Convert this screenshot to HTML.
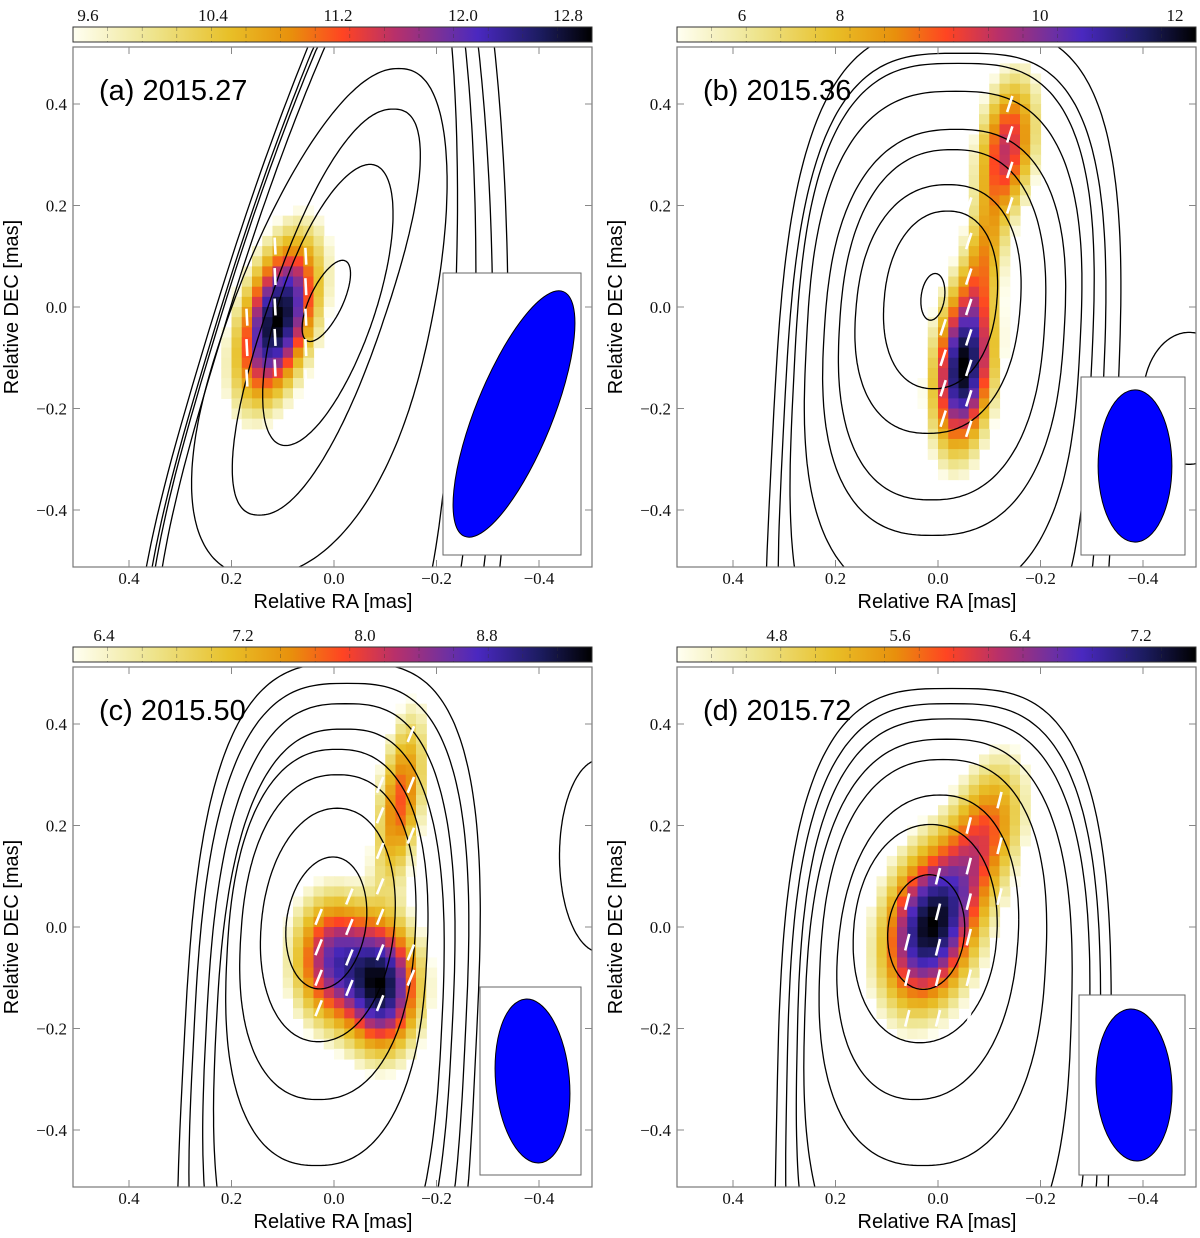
<!DOCTYPE html>
<html><head><meta charset="utf-8"><style>
html,body{margin:0;padding:0;background:#fff;overflow:hidden;width:1200px;height:1238px;}
svg{display:block;}
svg text{font-family:"Liberation Sans",sans-serif;}
.tk{font-family:"Liberation Serif",serif;font-size:17px;fill:#111;}
</style></head><body>
<svg id="fig" xmlns="http://www.w3.org/2000/svg" width="1200" height="1238" viewBox="0 0 1200 1238">
<defs>
<linearGradient id="cmap" x1="0" x2="1" y1="0" y2="0">
<stop offset="0" stop-color="#fffff2"/><stop offset="0.15" stop-color="#eee590"/><stop offset="0.3" stop-color="#e8c028"/>
<stop offset="0.42" stop-color="#e8900c"/><stop offset="0.52" stop-color="#ff4422"/><stop offset="0.62" stop-color="#b8306a"/>
<stop offset="0.72" stop-color="#7030a0"/><stop offset="0.78" stop-color="#4a28c0"/><stop offset="0.9" stop-color="#1c1c60"/><stop offset="1" stop-color="#000000"/>
</linearGradient>
</defs>
</svg>
<script>
// ---------- data ----------
const panelLabels = ["(a) 2015.27","(b) 2015.36","(c) 2015.50","(d) 2015.72"];
const cbarLabels = [["9.6","10.4","11.2","12.0","12.8"],["6","8","10","12"],["6.4","7.2","8.0","8.8"],["4.8","5.6","6.4","7.2"]];
const cbarLabelX = [[88,213,338,463,568],[742,840,1040,1175],[104,243,365,487],[777,900,1020,1141]];
const axisTicks = [0.4,0.2,0.0,-0.2,-0.4];
// heatmap blobs: ra, dec, sigma ra, sigma dec, rot(deg), amplitude
const blobRA   = [[0.11],[-0.05,-0.09,-0.135],[-0.095,0.0,-0.13],[0.015,-0.09]];
const blobDEC  = [[-0.025],[-0.12,0.1,0.315],[-0.118,-0.065,0.25],[0.0,0.18]];
const blobSRA  = [[0.042],[0.035,0.025,0.035],[0.045,0.05,0.028],[0.055,0.045]];
const blobSDEC = [[0.1],[0.1,0.09,0.09],[0.08,0.08,0.11],[0.1,0.1]];
const blobROT  = [[15],[5,8,8],[0,0,8],[12,15]];
const blobAMP  = [[1.0],[1.0,0.3,0.55],[1.0,0.75,0.5],[1.0,0.45]];
// contours (superellipses): ra, dec, half-width, half-height, exponent, left-side shear, right-side shear
const cRA  = [[0.015,0.012,0.015,0.01,0.0,-0.015,-0.03,-0.04],
              [0.01,-0.005,0.0,-0.008,-0.012,-0.01,-0.008,-0.008,-0.01,-0.49],
              [0.015,0.012,0.012,0.014,0.01,0.01,0.01,0.01,-0.52],
              [0.023,0.025,0.02,0.01,0.0,-0.01,-0.01,-0.01]];
const cDEC = [[0.012,0.004,-0.01,-0.03,-0.1,-0.1,-0.1,-0.1],
              [0.02,0.014,-0.004,-0.035,-0.05,-0.075,-0.15,-0.25,-0.3,-0.18],
              [0.008,0.004,-0.02,-0.06,-0.2,-0.21,-0.24,-0.28,0.14],
              [-0.01,-0.013,-0.04,-0.07,-0.18,-0.24,-0.31,-0.38]];
const cW   = [[0.035,0.097,0.117,0.2,0.232,0.26,0.28,0.3],
              [0.023,0.11,0.16,0.2,0.234,0.267,0.29,0.31,0.335,0.09],
              [0.078,0.13,0.17,0.195,0.22,0.24,0.265,0.285,0.08],
              [0.075,0.14,0.175,0.22,0.26,0.285,0.305,0.325]];
const cH   = [[0.08,0.277,0.4,0.5,0.85,0.9,0.95,1.0],
              [0.046,0.175,0.245,0.345,0.4,0.5,0.63,0.75,0.85,0.13],
              [0.13,0.23,0.32,0.41,0.59,0.65,0.72,0.8,0.19],
              [0.113,0.215,0.3,0.4,0.55,0.65,0.75,0.85]];
const cN   = [[2,2,2.3,2.2,2.5,2.5,2.5,2.5],
              [2,2.2,2.3,2.4,2.5,2.7,3,3.2,3.3,2],
              [2,2.1,2.3,2.4,2.6,2.7,2.9,3.1,2],
              [2,2.1,2.2,2.4,2.6,2.8,3,3.2]];
const cSHL = [[0.4,0.3,0.33,0.35,0.3,0.3,0.3,0.3],
              [0.1,0.08,0.08,0.06,0.06,0.05,0.05,0.05,0.05,0],
              [0.1,0.08,0.06,0.05,0.05,0.05,0.05,0.05,0],
              [0.05,0.05,0.08,0.05,0.03,0.02,0.02,0.02]];
const cSHR = [[0.4,0.3,0.33,0.2,0.05,0.02,0.0,0.0],
              [0.1,0.08,0.08,0.06,0.06,0.05,0.05,0.05,0.05,0],
              [0.1,0.08,0.06,0.05,0.05,0.05,0.05,0.05,0],
              [0.05,0.05,0.08,0.05,0.03,0.02,0.02,0.02]];
// EVPA ticks: ra, dec, angle
const evRA  = [[0.055,0.055,0.055,0.055,0.055,0.115,0.115,0.115,0.115,0.115,0.17,0.17,0.17],
               [-0.01,-0.01,-0.01,-0.01,-0.06,-0.06,-0.06,-0.06,-0.06,-0.06,-0.06,-0.06,-0.14,-0.14,-0.14,-0.14],
               [0.03,0.03,0.03,0.03,-0.03,-0.03,-0.03,-0.03,-0.09,-0.09,-0.09,-0.09,-0.09,-0.09,-0.09,-0.15,-0.15,-0.15,-0.15,-0.15],
               [0.06,0.06,0.06,0.06,0.0,0.0,0.0,0.0,0.0,-0.06,-0.06,-0.06,-0.06,-0.06,-0.06,-0.12,-0.12,-0.12,-0.15]];
const evDEC = [[0.1,0.04,-0.02,-0.08,-0.14,0.12,0.06,0.0,-0.06,-0.12,-0.02,-0.08,-0.14],
               [-0.04,-0.1,-0.16,-0.22,0.2,0.13,0.06,0.0,-0.06,-0.12,-0.18,-0.24,0.2,0.27,0.34,0.4],
               [0.02,-0.04,-0.1,-0.16,0.06,0.0,-0.06,-0.12,0.28,0.22,0.15,0.08,0.02,-0.05,-0.15,0.38,0.28,0.18,-0.05,-0.1],
               [0.05,-0.03,-0.1,-0.18,0.1,0.03,-0.04,-0.1,-0.18,0.2,0.12,0.05,-0.02,-0.1,-0.18,0.25,0.16,0.06,0.0]];
const evANG = [-3,18,22,14];
// beam insets (pixel box + beam size in mas)
const beamBox = [[443,273,138,282],[1081,377,104,178],[480,987,101,188],[1079,995,106,180]];
const beamB = [0.075,0.072,0.072,0.074];
const beamA = [0.26,0.15,0.162,0.15];
const beamROT = [22,0,-5,-3];

// ---------- drawing ----------
const NS="http://www.w3.org/2000/svg";
const svg=document.getElementById('fig');
function mk(tag,attrs,parent){const e=document.createElementNS(NS,tag);for(const k in attrs)e.setAttribute(k,attrs[k]);(parent||svg).appendChild(e);return e;}
const stops=[[0,[255,255,242]],[0.15,[238,229,144]],[0.3,[232,192,40]],[0.42,[232,144,12]],[0.52,[255,68,34]],[0.62,[184,48,106]],[0.72,[112,48,160]],[0.78,[74,40,192]],[0.9,[28,28,96]],[1,[0,0,0]]];
function cmap(t){t=Math.max(0,Math.min(1,t));for(let i=1;i<stops.length;i++){if(t<=stops[i][0]){const a=stops[i-1],b=stops[i];const f=(t-a[0])/(b[0]-a[0]);const c=a[1].map((v,j)=>Math.round(v+(b[1][j]-v)*f));return `rgb(${c[0]},${c[1]},${c[2]})`;}}return '#000';}
const SX=512.5, SY=507.5, W=519, H=520;
const origins=[[73,47],[677,47],[73,667],[677,667]];
const names=['a','b','c','d'];
function superPath(cx,cy,hw,hh,n,shL,shR,ox,oy){
  let d='';
  for(let i=0;i<=240;i++){
    const th=i/240*2*Math.PI, c=Math.cos(th), s=Math.sin(th);
    const xn=Math.sign(c)*Math.pow(Math.abs(c),2/n);
    let x=hw*xn, y=hh*Math.sign(s)*Math.pow(Math.abs(s),2/n);
    x+= -y*(shL*(1-xn)/2+shR*(1+xn)/2);
    let px=Math.max(ox-3,Math.min(ox+W+3,cx+x)), py=Math.max(oy-3,Math.min(oy+H+3,cy+y));
    d+=(i?'L':'M')+px.toFixed(1)+' '+py.toFixed(1);
  }
  return d+'Z';
}
for(let p=0;p<4;p++){
  const [ox,oy]=origins[p];
  const X=ra=>ox+261-ra*SX, Y=dec=>oy+260-dec*SY;
  const g=mk('g',{});
  
  
  const cp=mk('clipPath',{id:'clip'+p},svg);mk('rect',{x:ox,y:oy,width:W,height:H},cp);
  const inner=mk('g',{'clip-path':`url(#clip${p})`},g);
  // heatmap
  const hm=mk('g',{},inner);
  
  
  const st=0.02, cells=[]; let vmax=0;
  for(let i=0;i<50;i++){for(let j=0;j<50;j++){
    const ra=0.49-i*st, dec=0.49-j*st;
    let v=0;
    for(let k=0;k<blobRA[p].length;k++){
      const dx=ra-blobRA[p][k], dy=dec-blobDEC[p][k], r=blobROT[p][k]*Math.PI/180;
      const u=dx*Math.cos(r)+dy*Math.sin(r), w=-dx*Math.sin(r)+dy*Math.cos(r);
      v+=blobAMP[p][k]*Math.exp(-0.5*(u*u/(blobSRA[p][k]**2)+w*w/(blobSDEC[p][k]**2)));
    }
    vmax=Math.max(vmax,v);cells.push([ra,dec,v]);
  }}
  const thr=0.08*vmax;
  cells.forEach(([ra,dec,v])=>{
    if(v>thr){const c=mk('rect',{x:X(ra+st/2),y:Y(dec+st/2),width:st*SX+0.6,height:st*SY+0.6,fill:cmap(Math.pow((v-thr)/(vmax-thr),0.75))},hm);
      
      }
  });
  // contours
  for(let k=0;k<cRA[p].length;k++){
    const e=mk('path',{d:superPath(X(cRA[p][k]),Y(cDEC[p][k]),cW[p][k]*SX,cH[p][k]*SY,cN[p][k],cSHL[p][k],cSHR[p][k],ox,oy),fill:'none',stroke:'#000','stroke-width':1.3},inner);
    
    
  }
  // EVPA
  for(let k=0;k<evRA[p].length;k++){
    const cx=X(evRA[p][k]), cy=Y(evDEC[p][k]), a=evANG[p]*Math.PI/180, L=8.5;
    const l=mk('line',{x1:cx-L*Math.sin(a),y1:cy+L*Math.cos(a),x2:cx+L*Math.sin(a),y2:cy-L*Math.cos(a),stroke:'#fff','stroke-width':2.6},inner);
    
    
  }
  // beam
  const [bx,by,bw,bh]=beamBox[p];
  const br=mk('rect',{x:bx,y:by,width:bw,height:bh,fill:'#fff',stroke:'#666','stroke-width':1},g);
  
  
  const bcx=bx+bw/2+2, bcy=by+bh/2;
  const be=mk('ellipse',{cx:bcx,cy:bcy,rx:beamB[p]*SX,ry:beamA[p]*SY,transform:`rotate(${beamROT[p]} ${bcx} ${bcy})`,fill:'#0000ff',stroke:'#000','stroke-width':1},g);
  
  
  // frame and ticks
  mk('rect',{x:ox,y:oy,width:W,height:H,fill:'none',stroke:'#777','stroke-width':1.2},g);
  axisTicks.forEach((t,i)=>{
    const x=X(t), y=Y(t);
    mk('line',{x1:x,y1:oy+H,x2:x,y2:oy+H-7,stroke:'#888'},g);mk('line',{x1:x,y1:oy,x2:x,y2:oy+7,stroke:'#888'},g);
    mk('line',{x1:ox,y1:y,x2:ox+7,y2:y,stroke:'#888'},g);mk('line',{x1:ox+W,y1:y,x2:ox+W-7,y2:y,stroke:'#888'},g);
    const s=(t<0?'\u2212':'')+Math.abs(t).toFixed(1);
    const xl=mk('text',{x:x,y:oy+H+17,'text-anchor':'middle',class:'tk'},g);xl.textContent=s;
    
    
    const yl=mk('text',{x:ox-6,y:y+6,'text-anchor':'end',class:'tk'},g);yl.textContent=s;
    
    
  });
  const xt=mk('text',{x:ox+260,y:oy+H+41,'text-anchor':'middle','font-size':20},g);xt.textContent='Relative RA [mas]';
  
  
  const yt=mk('text',{x:0,y:0,'text-anchor':'middle','font-size':20,transform:`translate(${ox-55},${oy+260}) rotate(-90)`},g);yt.textContent='Relative DEC [mas]';
  
  
  const pl=mk('text',{x:ox+26,y:oy+53,'font-size':29},g);pl.textContent=panelLabels[p];
  
  
  // colorbar
  const cb=mk('g',{},g);
  
  
  mk('rect',{x:ox,y:oy-20,width:W,height:15,fill:'url(#cmap)',stroke:'#333','stroke-width':1},cb);
  for(let i=1;i<15;i++){const x=ox+i*W/15;mk('line',{x1:x,y1:oy-20,x2:x,y2:oy-5,stroke:'#333','stroke-width':0.6,'stroke-opacity':0.6,'stroke-dasharray':'4 3'},cb);}
  cbarLabels[p].forEach((s,i)=>{const t=mk('text',{x:cbarLabelX[p][i],y:oy-26,'text-anchor':'middle',class:'tk'},cb);t.textContent=s;
    
    });
}
</script>
</body></html>
